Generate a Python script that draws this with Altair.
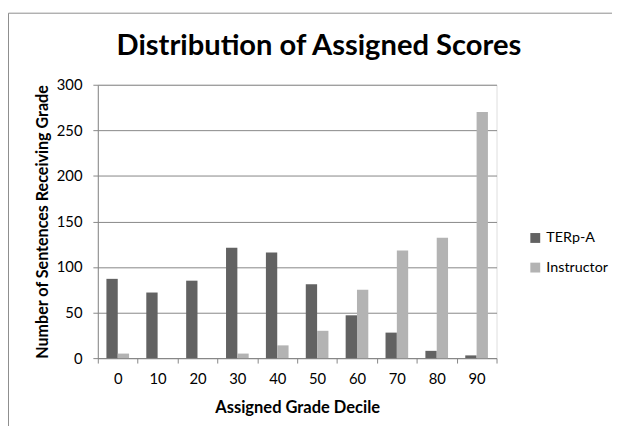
import altair as alt
import pandas as pd

deciles = ["0", "10", "20", "30", "40", "50", "60", "70", "80", "90"]
terp_a = [87, 72, 85, 121, 116, 81, 47, 28, 8, 3]
instructor = [5, 0, 0, 5, 14, 30, 75, 118, 132, 270]
series = ["TERp-A", "Instructor"]
colors = ["#626262", "#b3b3b3"]

rows = []
for d, a, b in zip(deciles, terp_a, instructor):
    rows.append({"decile": d, "series": series[0], "count": a})
    rows.append({"decile": d, "series": series[1], "count": b})
df = pd.DataFrame(rows)

FONT = "Lato"

bars = alt.Chart(df).mark_bar().encode(
    x=alt.X("decile:N", sort=deciles,
            scale=alt.Scale(paddingInner=0, paddingOuter=0),
            axis=alt.Axis(title="Assigned Grade Decile", labelAngle=0,
                          tickBand="extent", tickSize=5, labelPadding=9,
                          titlePadding=13, domainColor="#868686",
                          tickColor="#868686", labelFontSize=15,
                          titleFontSize=16.7, titleFontWeight="bold",
                          labelColor="#000000", titleColor="#000000",
                          labelFont=FONT, titleFont=FONT, grid=False)),
    xOffset=alt.XOffset("series:N", sort=series,
                        scale=alt.Scale(paddingInner=0, paddingOuter=0.76)),
    y=alt.Y("count:Q",
            scale=alt.Scale(domain=[0, 300], nice=False),
            axis=alt.Axis(title="Number of Sentences Receiving Grade",
                          values=[0, 50, 100, 150, 200, 250, 300],
                          tickSize=5, labelPadding=11, titlePadding=6,
                          domainColor="#868686", tickColor="#868686",
                          gridColor="#868686", gridWidth=1,
                          labelFontSize=15, titleFontSize=16.3,
                          titleFontWeight="bold", labelColor="#000000",
                          titleColor="#000000", labelFont=FONT,
                          titleFont=FONT)),
    color=alt.Color("series:N", sort=series,
                    scale=alt.Scale(domain=series, range=colors),
                    legend=alt.Legend(title=None, orient="none",
                                      legendX=436, legendY=148,
                                      symbolType="square", symbolSize=100,
                                      symbolStrokeWidth=0, labelFontSize=14.5,
                                      labelFont=FONT, labelColor="#000000",
                                      rowPadding=15, labelOffset=4)),
)

frame = alt.Chart(alt.Data(values=[{}])).mark_rect(
    fillOpacity=0, stroke="#8c8c8c", strokeWidth=1
).encode(x=alt.value(-90.5), y=alt.value(-72.5),
         x2=alt.value(700), y2=alt.value(500))

chart = alt.layer(frame, bars).properties(
    width=404, height=277,
    title=alt.TitleParams("Distribution of Assigned Scores", fontSize=29.5,
                          font=FONT, fontWeight="bold", color="#000000",
                          anchor="middle", baseline="alphabetic",
                          dx=22, dy=72, offset=0),
    autosize=alt.AutoSizeParams(type="none"),
    padding={"left": 91, "top": 75, "right": 117, "bottom": 66},
).configure_view(stroke=None).configure(background="white")

chart.save("out.html", embed_options={"renderer": "svg", "actions": False})
